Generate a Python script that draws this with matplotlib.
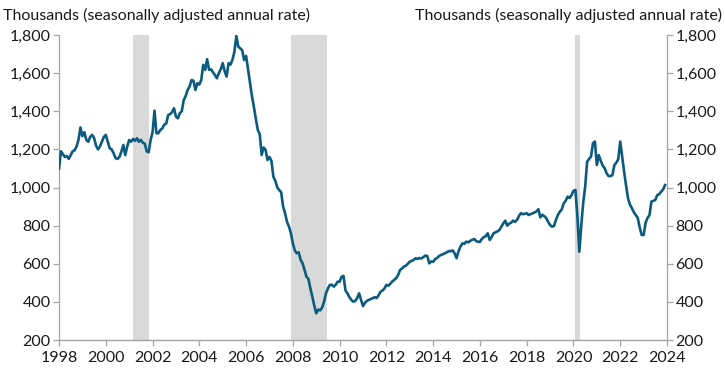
import matplotlib.pyplot as plt
import matplotlib.ticker as mticker
import numpy as np

# Monthly values, thousands (SAAR), Jan 1998 - Dec 2023
starts_by_year = {
    1998: [1100, 1190, 1175, 1160, 1165, 1150, 1170, 1190, 1195, 1215, 1250, 1315],
    1999: [1270, 1290, 1250, 1240, 1265, 1276, 1260, 1220, 1200, 1215, 1240, 1265],
    2000: [1276, 1240, 1206, 1200, 1180, 1155, 1150, 1160, 1188, 1223, 1170, 1215],
    2001: [1249, 1240, 1255, 1245, 1258, 1240, 1250, 1235, 1230, 1190, 1185, 1249],
    2002: [1290, 1403, 1284, 1285, 1302, 1310, 1330, 1335, 1380, 1385, 1395, 1416],
    2003: [1372, 1363, 1390, 1400, 1459, 1480, 1512, 1530, 1564, 1560, 1512, 1547],
    2004: [1540, 1564, 1643, 1617, 1673, 1617, 1620, 1605, 1590, 1573, 1600, 1620],
    2005: [1652, 1610, 1582, 1652, 1645, 1670, 1712, 1795, 1739, 1730, 1720, 1669],
    2006: [1690, 1620, 1547, 1480, 1424, 1360, 1302, 1280, 1171, 1210, 1197, 1144],
    2007: [1160, 1140, 1057, 1035, 1000, 987, 975, 900, 865, 820, 795, 760],
    2008: [707, 670, 655, 660, 620, 602, 567, 532, 520, 470, 427, 380],
    2009: [340, 360, 355, 370, 400, 445, 470, 489, 490, 480, 490, 506],
    2010: [506, 532, 536, 460, 445, 425, 410, 401, 405, 420, 445, 410],
    2011: [378, 395, 405, 410, 415, 419, 425, 420, 435, 453, 460, 470],
    2012: [489, 485, 495, 507, 515, 525, 540, 567, 575, 585, 590, 600],
    2013: [611, 615, 620, 629, 625, 630, 628, 635, 643, 640, 602, 612],
    2014: [610, 625, 630, 640, 646, 650, 655, 660, 667, 665, 670, 655],
    2015: [629, 665, 690, 707, 705, 716, 712, 720, 725, 730, 720, 715],
    2016: [715, 730, 740, 745, 760, 725, 740, 760, 765, 770, 777, 795],
    2017: [812, 826, 800, 810, 815, 826, 820, 830, 850, 865, 860, 862],
    2018: [865, 856, 860, 865, 869, 875, 886, 843, 857, 850, 840, 820],
    2019: [803, 795, 798, 830, 856, 873, 885, 917, 930, 952, 945, 960],
    2020: [983, 987, 850, 663, 800, 920, 1004, 1135, 1150, 1162, 1232, 1241],
    2021: [1118, 1170, 1140, 1115, 1101, 1075, 1060, 1060, 1065, 1118, 1130, 1150],
    2022: [1241, 1162, 1083, 1010, 943, 910, 891, 870, 855, 840, 790, 751],
    2023: [751, 815, 840, 855, 926, 930, 935, 960, 965, 978, 990, 1013],
}

recessions = [(2001.17, 2001.86), (2007.92, 2009.46), (2020.08, 2020.29)]
year_ticks = list(range(1998, 2025, 2))
value_ticks = list(range(200, 1801, 200))

dates = []
values = []
for yr, vals in starts_by_year.items():
    for m, v in enumerate(vals):
        dates.append(yr + m / 12)
        values.append(v)

plt.rcParams['font.family'] = ['Lato', 'DejaVu Sans']
plt.rcParams['font.size'] = 11.5

fig = plt.figure(figsize=(7.25, 3.74), dpi=100)
ax = fig.add_axes([0.0814, 0.0909, 0.8386, 0.8155])

for start, end in recessions:
    ax.axvspan(start, end, color='#d9d9d9', lw=0, zorder=0)

ax.plot(dates, values, color='#0b5b7f', lw=1.9, zorder=3)

ax.set_xlim(1998, 2024)
ax.set_ylim(200, 1800)
ax.set_xticks(year_ticks)
ax.set_yticks(value_ticks)
ax.yaxis.set_major_formatter(mticker.StrMethodFormatter('{x:,.0f}'))

ax2 = ax.twinx()
ax2.set_ylim(200, 1800)
ax2.set_yticks(value_ticks)
ax2.yaxis.set_major_formatter(mticker.StrMethodFormatter('{x:,.0f}'))

for a in (ax, ax2):
    a.spines['top'].set_visible(False)
    for s in ('left', 'right', 'bottom'):
        a.spines[s].set_color('#a6a6a6')
        a.spines[s].set_linewidth(0.9)
    a.tick_params(colors='#a6a6a6', labelcolor='#1a1a1a', length=4, width=0.9)
ax.spines['right'].set_visible(False)
ax2.spines['left'].set_visible(False)
ax.tick_params(axis='y', pad=2)
ax2.tick_params(axis='y', pad=2)
ax.tick_params(axis='x', pad=4)

fig.text(0.004, 0.958, 'Thousands (seasonally adjusted annual rate)', ha='left', va='center',
         color='#1a1a1a')
fig.text(0.996, 0.958, 'Thousands (seasonally adjusted annual rate)', ha='right', va='center',
         color='#1a1a1a')

fig.savefig('out.png', dpi=100)
